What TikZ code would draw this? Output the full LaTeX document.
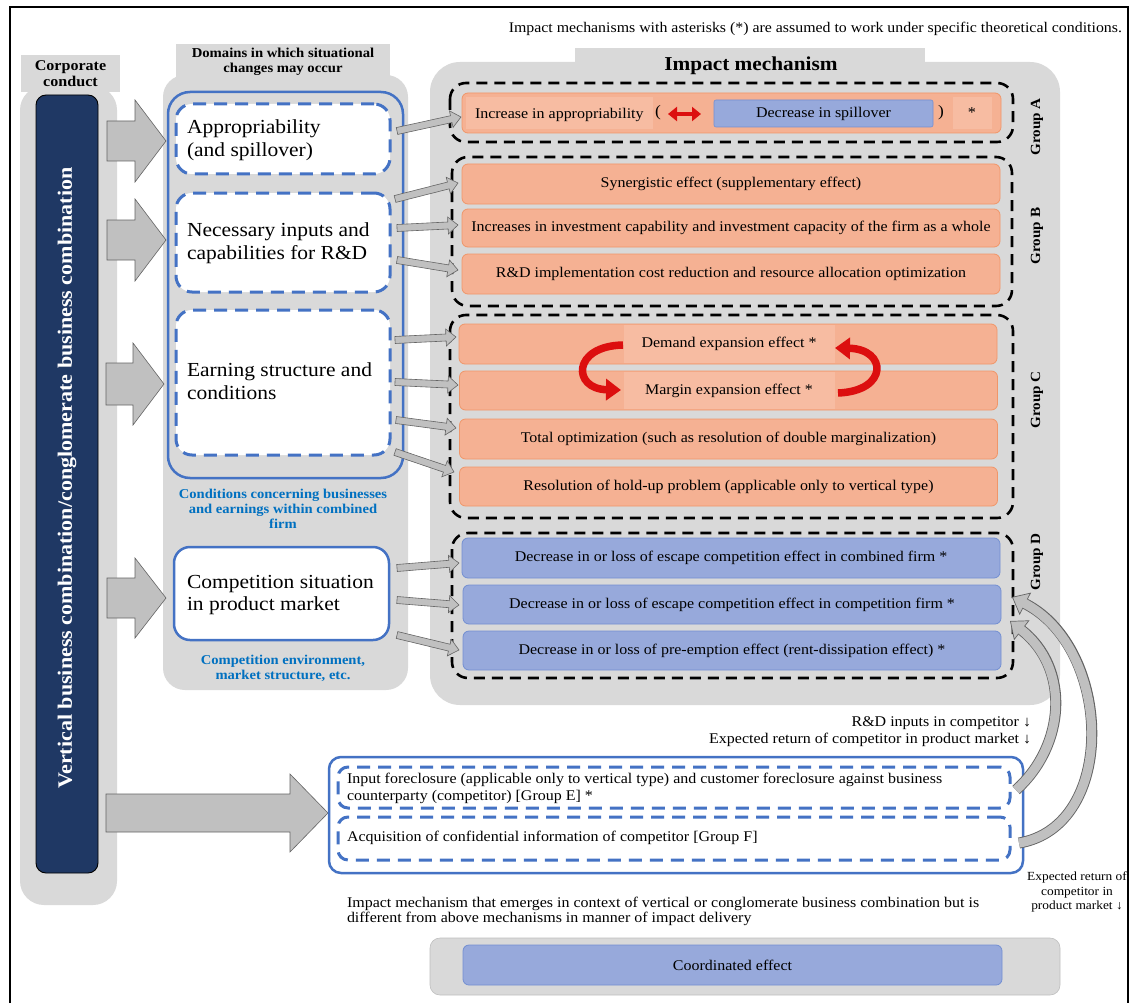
\documentclass[tikz,border=0pt]{standalone}
\usepackage{fontspec}
\setmainfont{Liberation Serif}[FakeStretch=1.08]
\usetikzlibrary{arrows.meta,calc}
\definecolor{colgray}{RGB}{217,217,217}
\definecolor{navy}{RGB}{31,56,100}
\definecolor{myblue}{RGB}{68,114,196}
\definecolor{txtblue}{RGB}{0,112,192}
\definecolor{orfill}{RGB}{245,177,147}
\definecolor{ordraw}{RGB}{240,150,105}
\definecolor{orlight}{RGB}{247,188,162}
\definecolor{blfill}{RGB}{151,169,219}
\definecolor{bldraw}{RGB}{115,143,210}
\definecolor{arrgray}{RGB}{192,192,192}
\definecolor{arrline}{RGB}{100,100,100}
\definecolor{myred}{RGB}{220,15,15}
\newcommand{\fsz}[2]{\fontsize{#1pt}{#2pt}\selectfont}
\newdimen\bax \newdimen\bay \newdimen\bbx \newdimen\bby
\newcommand{\blockarrow}[5]{%
 \pgfextractx{\bax}{\pgfpointanchor{#1}{center}}%
 \pgfextracty{\bay}{\pgfpointanchor{#1}{center}}%
 \pgfextractx{\bbx}{\pgfpointanchor{#2}{center}}%
 \pgfextracty{\bby}{\pgfpointanchor{#2}{center}}%
 \pgfmathsetmacro\bang{atan2(\bby-\bay,\bbx-\bax)}%
 \pgfmathsetmacro\blen{veclen(\bbx-\bax,\bby-\bay)}%
 \begin{scope}[shift={(#1)},rotate=\bang,x=1pt,y=1pt]
 \filldraw[blockarr] (0,-#3) -- ({\blen-#5},-#3) -- ({\blen-#5},-#4) -- (\blen,0) -- ({\blen-#5},#4) -- ({\blen-#5},#3) -- (0,#3) -- cycle;
 \end{scope}}
\tikzset{
 blockarr/.style={fill=arrgray, draw=arrline, line width=0.6pt, line join=miter},
 orbox/.style={fill=orfill, draw=ordraw, line width=0.8pt, rounded corners=6pt, minimum width=538pt, minimum height=40pt, inner sep=0pt, font=\fsz{14.8}{17}},
 blbox/.style={orbox, fill=blfill, draw=bldraw},
 grpdash/.style={draw=black, line width=2.6pt, dash pattern=on 11pt off 7pt, rounded corners=16pt},
 bdash/.style={draw=myblue, line width=3pt, dash pattern=on 13pt off 8pt, rounded corners=16pt, fill=white},
 domtxt/.style={anchor=west, align=left, font=\fsz{19.9}{22.5}},
 bluetxt/.style={align=center, text=txtblue, font=\bfseries\fsz{13.5}{15}},
 grplbl/.style={rotate=90, font=\bfseries\fsz{14}{15}},
 txt/.style={font=\fsz{14.8}{17}},
 cgray/.style={line width=11pt, draw=arrline, -{Triangle[length=15pt,width=25pt,line width=0.7pt,fill=arrgray]}},
 cgrayin/.style={line width=9.2pt, draw=arrgray, shorten >=13.5pt},
 redarr/.style={line width=7.5pt, draw=myred, -{Triangle[length=15pt,width=21pt]}},
}
\begin{document}
\begin{tikzpicture}[x=1pt,y=-1pt, every node/.style={inner sep=0pt, outer sep=0pt}]
\useasboundingbox (0,0) rectangle (1131,1003);
\fill[white] (0,0) rectangle (1131,1003);
\draw[line width=1.4pt] (10,1003) -- (10,7) -- (1128,7) -- (1128,1003);

\node[anchor=east, font=\fsz{14.7}{16}] (note) at (1122,29) {Impact mechanisms with asterisks (*) are assumed to work under specific theoretical conditions.};

% ---------- corporate conduct column
\fill[colgray, rounded corners=24pt] (20,86) rectangle (117,905);
\fill[colgray] (21,55) rectangle (120,92);
\node[font=\bfseries\fsz{14.9}{16}, align=center] (cchead) at (70.5,73.5) {Corporate\\conduct};
\node[draw=black, line width=0.9pt, fill=navy, rounded corners=10pt, minimum width=62pt, minimum height=778pt] (vbc) at (67,484) {};
\node[rotate=90, text=white, font=\bfseries\fsz{20.4}{22}] (vbctext) at (67,478) {Vertical business combination/conglomerate business combination};

% ---------- domains column
\fill[colgray, rounded corners=22pt] (163,75) rectangle (408,690);
\fill[colgray] (176,44) rectangle (390,80);
\node[font=\bfseries\fsz{13.6}{15.5}, align=center] (domhead) at (283,62) {Domains in which situational\\changes may occur};
\draw[myblue, line width=2.5pt, rounded corners=22pt] (168,92) rectangle (403,478);
\node[bdash, minimum width=214pt, minimum height=70pt] (appr) at (283,139) {};
\node[domtxt] (apprt) at (187,140) {Appropriability\\(and spillover)};
\node[bdash, minimum width=214pt, minimum height=99pt] (nec) at (283,242.5) {};
\node[domtxt] (nect) at (187,243) {Necessary inputs and\\capabilities for R\&D};
\node[bdash, minimum width=214pt, minimum height=145pt] (earn) at (283,382.5) {};
\node[domtxt] (earnt) at (187,381) {Earning structure and\\conditions};
\node[bluetxt] (condt) at (283,509) {Conditions concerning businesses\\and earnings within combined\\firm};
\node[draw=myblue, line width=2.5pt, fill=white, rounded corners=16pt, minimum width=215pt, minimum height=93pt] (comp) at (281.5,593.5) {};
\node[domtxt] (compt) at (187,595) {Competition situation\\in product market};
\node[bluetxt] (envt) at (283,668.5) {Competition environment,\\market structure, etc.};

% ---------- impact mechanism column
\fill[colgray, rounded corners=30pt] (430,62) rectangle (1060,705);
\fill[colgray] (575,48) rectangle (925,80);
\node[font=\bfseries\fsz{19.7}{22}] (imphead) at (751,66) {Impact mechanism};

% Group A
\draw[grpdash] (450,83) rectangle (1013,142);
\node[orbox, minimum width=539pt] (gA) at (731.5,113) {};
\fill[orlight] (466,97) rectangle (653,129);
\fill[orlight] (953,97) rectangle (992,129);
\node[anchor=west, font=\fsz{14.8}{16}] (incap) at (475,114.5) {Increase in appropriability};
\node[font=\fsz{16}{18}] (lpar) at (658,113) {(};
\node[fill=blfill, draw=bldraw, line width=0.6pt, rounded corners=2pt, minimum width=219pt, minimum height=27pt, font=\fsz{14.8}{16}] (spill) at (823.5,113.5) {Decrease in spillover};
\node[font=\fsz{16}{18}] (rpar) at (941,113) {)};
\node[font=\fsz{15}{17}] (astA) at (972,113) {*};
\draw[myred, line width=4.5pt, {Triangle[length=9pt,width=14pt]}-{Triangle[length=9pt,width=14pt]}] (668,114) -- (701,114);
\node[grplbl] (gla) at (1037,127) {Group A};

% Group B
\draw[grpdash] (452,157) rectangle (1012,306);
\node[orbox] (syn) at (731,184) {Synergistic effect (supplementary effect)};
\node[orbox, minimum height=38pt] (inv) at (731,228) {Increases in investment capability and investment capacity of the firm as a whole};
\node[orbox] (rdc) at (731,274) {R\&D implementation cost reduction and resource allocation optimization};
\node[grplbl] (glb) at (1037,236) {Group B};

% Group C
\draw[grpdash] (450,315) rectangle (1013,518);
\node[orbox] (dem) at (728,344) {};
\node[orbox, minimum height=39pt] (mar) at (728.5,390.5) {};
\fill[orlight] (624,325) rectangle (835,363);
\fill[orlight] (624,372) rectangle (835,409);
\node[font=\fsz{14.8}{16}] (demt) at (729,344) {Demand expansion effect *};
\node[font=\fsz{14.8}{16}] (mart) at (729,391) {Margin expansion effect *};
\node[orbox] (tot) at (728.5,439) {Total optimization (such as resolution of double marginalization)};
\node[orbox, minimum height=39pt] (hold) at (728.5,486.5) {Resolution of hold-up problem (applicable only to vertical type)};
\draw[redarr] (623,345) .. controls (572,346) and (572,389) .. (621,390);
\draw[redarr] (838,393) .. controls (889,391) and (887,349) .. (835,348);
\node[grplbl] (glc) at (1037,400) {Group C};

% Group D
\draw[grpdash] (452,533) rectangle (1013,678);
\node[blbox] (escc) at (731,558) {Decrease in or loss of escape competition effect in combined firm *};
\node[blbox, minimum height=39pt] (escf) at (732,604.5) {Decrease in or loss of escape competition effect in competition firm *};
\node[blbox, minimum height=39pt] (pre) at (732,650.5) {Decrease in or loss of pre-emption effect (rent-dissipation effect) *};
\node[grplbl] (gld) at (1037,562) {Group D};

% ---------- big arrows from corporate conduct
\coordinate (b1s) at (107,141); \coordinate (b1e) at (166,141);
\coordinate (b2s) at (107,240); \coordinate (b2e) at (166,240);
\coordinate (b3s) at (106,384); \coordinate (b3e) at (164,384);
\coordinate (b4s) at (107,598); \coordinate (b4e) at (166,598);
\coordinate (b5s) at (106,813); \coordinate (b5e) at (328,813);
\blockarrow{b1s}{b1e}{20}{41}{31}
\blockarrow{b2s}{b2e}{20}{41}{31}
\blockarrow{b3s}{b3e}{21}{41}{31}
\blockarrow{b4s}{b4e}{20}{40}{31}
\blockarrow{b5s}{b5e}{19}{39}{38}

% ---------- small arrows domains -> mechanisms
\foreach \i/\xa/\ya/\xb/\yb in {1/397/131/461/117, 2/395/199/458/183, 3/397/228/458/225, 4/397/260/458/270,
  5/395/340/456/337, 6/395/382/458/385, 7/396/420/456/428, 8/395/452/454/472,
  9/397/568/459/563, 10/397/600/459/605, 11/397/635/459/650}{
  \coordinate (sa\i) at (\xa,\ya);
  \coordinate (sb\i) at (\xb,\yb);
  \blockarrow{sa\i}{sb\i}{3.5}{8.5}{10}
}

% ---------- groups E and F
\node[anchor=east, txt] (rdin) at (1031,723) {R\&D inputs in competitor ↓};
\node[anchor=east, txt] (exp1) at (1031,740) {Expected return of competitor in product market ↓};
\draw[myblue, line width=2.5pt, rounded corners=12pt] (329,757) rectangle (1023,873);
\node[bdash, rounded corners=10pt, minimum width=672pt, minimum height=41pt] (grpE) at (674,787.5) {};
\node[anchor=west, align=left, txt] (grpEt) at (347,788.5) {Input foreclosure (applicable only to vertical type) and customer foreclosure against business\\counterparty (competitor) [Group E] *};
\node[bdash, rounded corners=10pt, minimum width=672pt, minimum height=43pt] (grpF) at (674,838.5) {};
\node[anchor=west, txt] (grpFt) at (347,838) {Acquisition of confidential information of competitor [Group F]};

% curved arrows back to group D
\coordinate (c1s) at (1016,790); \coordinate (c1e) at (1010,621);
\coordinate (c2s) at (1019,843); \coordinate (c2e) at (1012,597);
\draw[cgray] (c1s) .. controls (1066,745) and (1070,668) .. (c1e);
\draw[cgrayin] (c1s) .. controls (1066,745) and (1070,668) .. (c1e);
\draw[cgray] (c2s) .. controls (1118,826) and (1112,648) .. (c2e);
\draw[cgrayin] (c2s) .. controls (1118,826) and (1112,648) .. (c2e);

\node[align=center, font=\fsz{12.4}{14.5}] (exp2) at (1077,892) {Expected return of\\competitor in\\product market ↓};

% ---------- coordinated effect
\node[anchor=west, align=left, font=\fsz{14.8}{15.5}] (bnote) at (347,911.5) {Impact mechanism that emerges in context of vertical or conglomerate business combination but is\\different from above mechanisms in manner of impact delivery};
\fill[colgray, draw=black!25, line width=0.6pt, rounded corners=10pt] (430,938) rectangle (1060,995);
\node[blbox, minimum width=539pt] (coord) at (732.5,965) {Coordinated effect};
\end{tikzpicture}
\end{document}
